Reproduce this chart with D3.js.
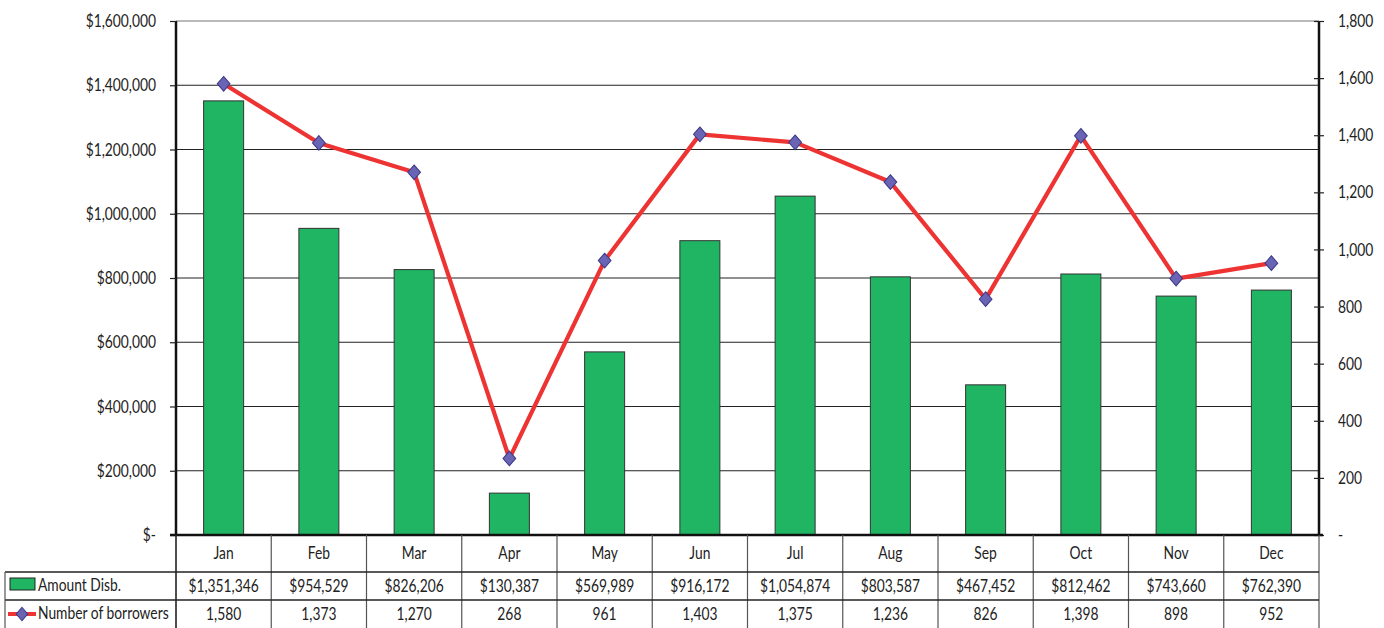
<!DOCTYPE html>
<html><head><meta charset="utf-8">
<script src="https://cdn.jsdelivr.net/npm/d3@7"></script>
<style>
body{margin:0;background:#fff;}
svg text{font-family:Lato,"Open Sans",sans-serif;fill:#222;}
</style></head>
<body><svg id="c" width="1384" height="628"></svg>
<script>
const months = ["Jan","Feb","Mar","Apr","May","Jun","Jul","Aug","Sep","Oct","Nov","Dec"];
const amount = [1351346,954529,826206,130387,569989,916172,1054874,803587,467452,812462,743660,762390];
const borrowers = [1580,1373,1270,268,961,1403,1375,1236,826,1398,898,952];
const leftTicks = [0,200000,400000,600000,800000,1000000,1200000,1400000,1600000];
const rightTicks = [0,200,400,600,800,1000,1200,1400,1600,1800];
const seriesNames = ["Amount Disb.","Number of borrowers"];

const FS = 17.5, SX = 0.79;
const svg = d3.select("#c");
const L = 176, R = 1319, T = 21, B = 535;
const x = d3.scaleBand().domain(months).range([L, R]).paddingInner(0).paddingOuter(0);
const yL = d3.scaleLinear().domain([0,1600000]).range([B, T]);
const yR = d3.scaleLinear().domain([0,1800]).range([B, T]);
const fmtMoney = v => v === 0 ? "$-" : "$" + d3.format(",")(v);
const fmtNum = v => v === 0 ? "-" : d3.format(",")(v);
// narrow the humanist font horizontally around its anchor x
function squeeze(sel){
  sel.each(function(){
    const t = d3.select(this);
    const xx = +t.attr("x") || 0;
    t.attr("transform", `translate(${xx},0) scale(${SX},1) translate(${-xx},0)`);
  });
}

// gridlines
svg.append("g").selectAll("line").data(leftTicks.filter(d=>d>0)).join("line")
  .attr("x1", L).attr("x2", R).attr("y1", d=>yL(d)).attr("y2", d=>yL(d))
  .attr("stroke", d => d===1600000 ? "#777" : "#222").attr("stroke-width", 1.2);

// bars
const bw = 40;
svg.append("g").selectAll("rect").data(amount).join("rect")
  .attr("x", (d,i)=>x(months[i]) + x.bandwidth()/2 - bw/2)
  .attr("y", d=>yL(d)).attr("width", bw).attr("height", d=>B - yL(d))
  .attr("fill", "#1fb563").attr("stroke", "#333").attr("stroke-width", 1);

// line
const line = d3.line().x((d,i)=>x(months[i]) + x.bandwidth()/2).y(d=>yR(d));
svg.append("path").datum(borrowers).attr("d", line)
  .attr("fill","none").attr("stroke","#ee3333").attr("stroke-width",4.2).attr("stroke-linejoin","round");
svg.append("g").selectAll("path").data(borrowers).join("path")
  .attr("d", d3.symbol(d3.symbolDiamond, 62))
  .attr("transform", (d,i)=>`translate(${x(months[i]) + x.bandwidth()/2},${yR(d)}) scale(1.5,1)`)
  .attr("fill","#6a64b4").attr("stroke","#3c3a8a").attr("stroke-width",0.8);

// left axis
const gL = svg.append("g").attr("transform",`translate(${L},0)`)
  .call(d3.axisLeft(yL).tickValues(leftTicks).tickFormat(fmtMoney).tickSize(6).tickPadding(14));
gL.select(".domain").attr("stroke","#111").attr("stroke-width",2.5).attr("d",`M0,${T}V${B}`);
gL.selectAll(".tick line").attr("stroke","#222").attr("stroke-width",1.2);
gL.selectAll("text").attr("font-size",FS).style("font-family","Lato,sans-serif").attr("fill","#222").call(squeeze);

// right axis
const gR = svg.append("g").attr("transform",`translate(${R},0)`)
  .call(d3.axisRight(yR).tickValues(rightTicks).tickFormat(fmtNum).tickSize(5).tickPadding(14));
gR.select(".domain").attr("stroke","#111").attr("stroke-width",2.5).attr("d",`M0,${T}V${B}`);
gR.selectAll(".tick line").attr("x1",-5).attr("stroke","#222").attr("stroke-width",1.2);
gR.selectAll("text").attr("font-size",FS).style("font-family","Lato,sans-serif").attr("fill","#222").call(squeeze);

// bottom axis line
svg.append("line").attr("x1",L-6).attr("x2",R+4).attr("y1",B).attr("y2",B).attr("stroke","#111").attr("stroke-width",2.5);

// data table
const tbl = svg.append("g");
const bounds = months.map(m=>x(m)).concat([R]);
tbl.selectAll("line.v").data(bounds).join("line")
  .attr("x1",d=>d).attr("x2",d=>d).attr("y1",B).attr("y2",628)
  .attr("stroke",(d,i)=> (i===0)?"#222":"#555").attr("stroke-width",(d,i)=> i===0?1.6:1.2);
tbl.append("line").attr("x1",5).attr("x2",R).attr("y1",572).attr("y2",572).attr("stroke","#222").attr("stroke-width",1.5);
tbl.append("line").attr("x1",5).attr("x2",R).attr("y1",600).attr("y2",600).attr("stroke","#222").attr("stroke-width",1.5);
tbl.append("line").attr("x1",5).attr("x2",5).attr("y1",572).attr("y2",628).attr("stroke","#555").attr("stroke-width",1.2);

tbl.selectAll("text.m").data(months).join("text")
  .attr("x", d=>x(d)+x.bandwidth()/2).attr("y", 559).attr("text-anchor","middle")
  .attr("font-size",FS).text(d=>d).call(squeeze);
tbl.selectAll("text.a").data(amount).join("text")
  .attr("x",(d,i)=>x(months[i])+x.bandwidth()/2).attr("y",592).attr("text-anchor","middle")
  .attr("font-size",FS).text(d=>"$"+d3.format(",")(d)).call(squeeze);
tbl.selectAll("text.b").data(borrowers).join("text")
  .attr("x",(d,i)=>x(months[i])+x.bandwidth()/2).attr("y",620).attr("text-anchor","middle")
  .attr("font-size",FS).text(d=>d3.format(",")(d)).call(squeeze);

// legend keys
tbl.append("rect").attr("x",10).attr("y",578).attr("width",25).attr("height",12)
  .attr("fill","#1fb563").attr("stroke","#222").attr("stroke-width",1);
tbl.append("line").attr("x1",8).attr("x2",36).attr("y1",614).attr("y2",614).attr("stroke","#ee3333").attr("stroke-width",4);
tbl.append("path").attr("d", d3.symbol(d3.symbolDiamond, 50))
  .attr("transform","translate(22,614) scale(1.5,1)").attr("fill","#6a64b4").attr("stroke","#3c3a8a").attr("stroke-width",0.8);
tbl.append("text").attr("x",38).attr("y",591).attr("font-size",FS).text(seriesNames[0]).call(squeeze);
tbl.append("text").attr("x",38).attr("y",619).attr("font-size",FS).text(seriesNames[1]).call(squeeze);
</script></body></html>
